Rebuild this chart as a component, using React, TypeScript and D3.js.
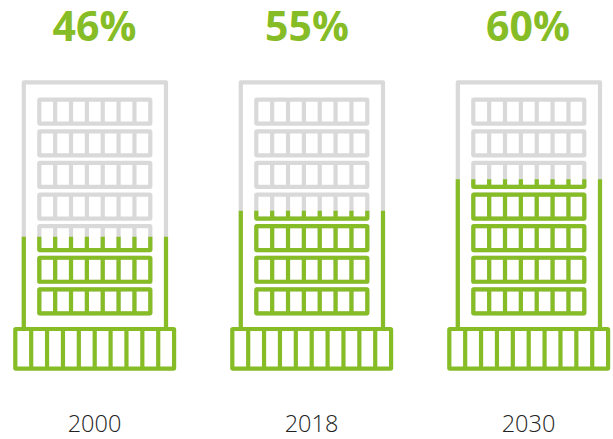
import React from "react";
import * as d3 from "d3";

const years = ["2000", "2018", "2030"];
const shares = ["46%", "55%", "60%"];
const fillLevels = [0.374, 0.479, 0.607];
const shareNudge = [0, -4.5, -0.5];
const floorCount = 7;
const floorCells = 7;
const baseCells = 10;

const GREEN = "#86bc25";
const GRAY = "#d9d9d9";
const SW = 4.2;

const buildingX = d3.scalePoint<string>().domain(years).range([0, 434]);
const fillY = d3.scaleLinear().domain([0, 1]).range([329, 82.3]);
const floorY = d3.scaleBand<number>().domain(d3.range(floorCount)).range([97.7, 319]).paddingInner(0);
const floorCellX = d3.scaleLinear().domain([0, floorCells]).range([39.3, 150.3]);
const baseCellX = d3.scaleLinear().domain([0, baseCells]).range([15.3, 174.1]);

function Floors({ color }: { color: string }) {
  const h = 24;
  return (
    <g fill="none" stroke={color} strokeWidth={SW} strokeLinejoin="round">
      <path d="M23.8,331V82.3H166V331" strokeLinejoin="round" />
      {d3.range(floorCount).map((f) => {
        const y = (floorY(f) as number) + 2;
        return (
          <g key={f}>
            <rect x={floorCellX(0)} y={y} width={floorCellX(floorCells) - floorCellX(0)} height={h} rx={0.6} />
            {d3.range(1, floorCells).map((c) => (
              <line key={c} x1={floorCellX(c)} x2={floorCellX(c)} y1={y} y2={y + h} />
            ))}
          </g>
        );
      })}
    </g>
  );
}

export default function App() {
  return (
    <svg
      width={613}
      height={439}
      viewBox="0 0 613 439"
      style={{ position: "absolute", left: 0, top: 0, display: "block", background: "#fff" }}
    >
      <defs>
        {years.map((yr, i) => (
          <clipPath id={`fill-${yr}`} key={yr}>
            <rect x={0} y={fillY(fillLevels[i])} width={200} height={300} />
          </clipPath>
        ))}
      </defs>
      {years.map((yr, i) => {
        const dx = buildingX(yr) as number;
        return (
          <g key={yr}>
            <g transform={`translate(${dx},0)`}>
              <Floors color={GRAY} />
              <g clipPath={`url(#fill-${yr})`}>
                <Floors color={GREEN} />
              </g>
              <g fill="#fff" stroke={GREEN} strokeWidth={SW} strokeLinejoin="round">
                <rect x={baseCellX(0)} y={329} width={baseCellX(baseCells) - baseCellX(0)} height={39.7} rx={0.6} />
                {d3.range(1, baseCells).map((c) => (
                  <line key={c} x1={baseCellX(c)} x2={baseCellX(c)} y1={329} y2={368.7} />
                ))}
              </g>
            </g>
            <text
              x={dx + 94.5 + shareNudge[i]}
              y={41}
              textAnchor="middle"
              fontFamily="'Open Sans', sans-serif"
              fontWeight={700}
              fontSize={41}
              fill={GREEN}
            >
              {shares[i]}
            </text>
            <text
              x={dx + 94.5}
              y={432}
              textAnchor="middle"
              fontFamily="'Open Sans', sans-serif"
              fontWeight={300}
              fontSize={23.5}
              fill="#222"
            >
              {yr}
            </text>
          </g>
        );
      })}
    </svg>
  );
}
